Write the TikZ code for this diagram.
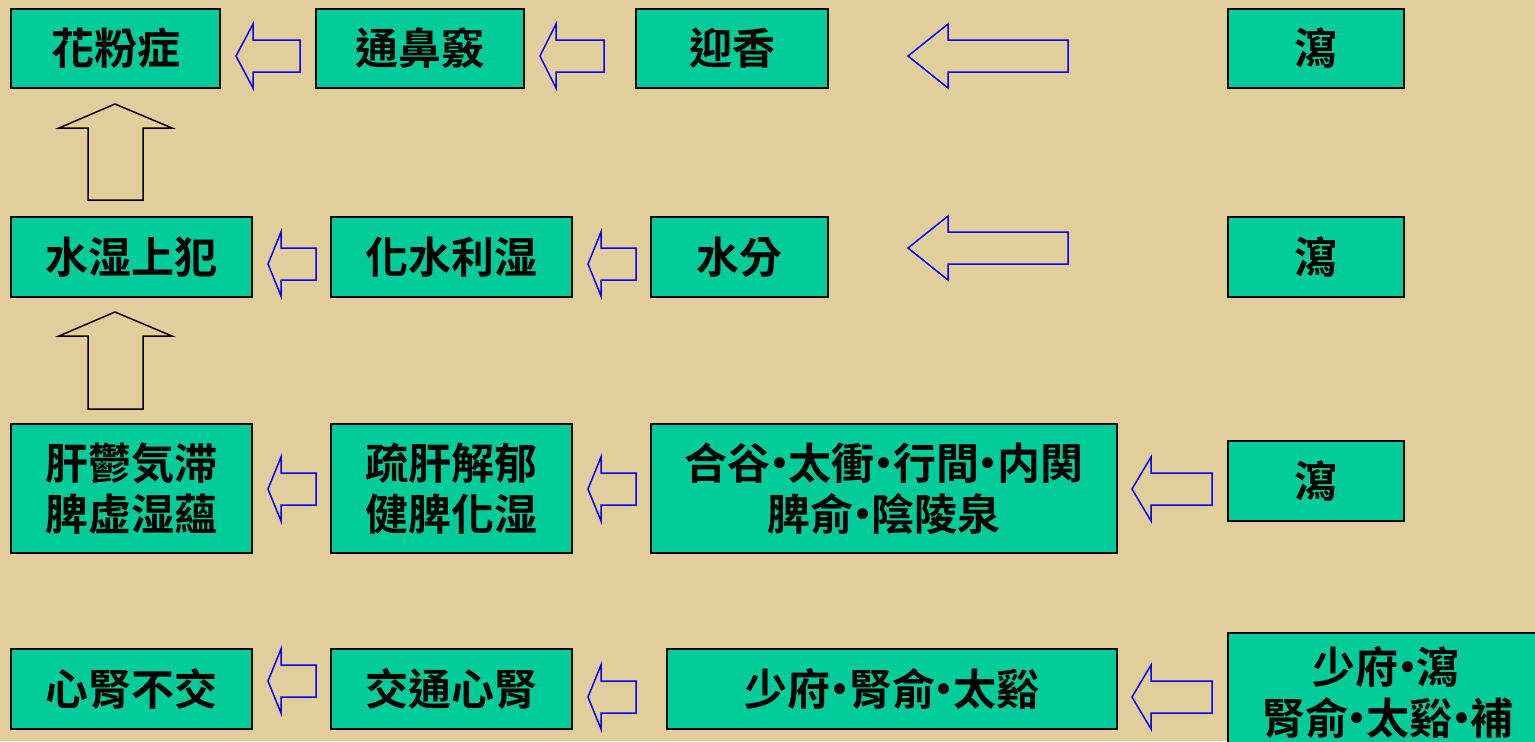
\documentclass[tikz,border=0pt]{standalone}
\usepackage{fontspec}
\newfontfamily\cjk{Noto Sans CJK TC}[UprightFont=* Bold]
\definecolor{bgtan}{RGB}{226,206,155}
\definecolor{boxfill}{RGB}{0,204,153}
\definecolor{arrblue}{RGB}{0,0,255}
\tikzset{
  box/.style={draw=black, line width=0.8pt, fill=boxfill, inner sep=0pt, align=center,
    font=\cjk\fontsize{21.5}{25.5}\selectfont},
  lbl/.style={inner sep=0pt, font=\cjk\fontsize{21.5}{25.5}\selectfont},
  barrow/.style={draw=arrblue, line width=0.75pt, line join=miter},
  karrow/.style={draw=black, line width=0.75pt, line join=miter},
}
\newcommand\D{\makebox[0.42em][c]{·}}
% box: name, x1, y1, x2, y2, text (pixel coordinates)
\newcommand\Bx[6]{\node[box, minimum width={(#4-#2)*0.5pt}, minimum height={(#5-#3)*0.5pt}] (#1) at ({(#2+#4)/2},{(#3+#5)/2}) {#6};}
% left block arrow: tip x, tip y, head back x, tail x
\newcommand\LArr[4]{\draw[barrow] (#1,#2) -- (#3,#2-32) -- (#3,#2-16) -- (#4,#2-16) -- (#4,#2+16) -- (#3,#2+16) -- (#3,#2+32) -- cycle;}
% up block arrow: centre x, tip y, bottom y
\newcommand\UArr[3]{\draw[karrow] (#1,#2) -- (#1+57,#2+24) -- (#1+28,#2+24) -- (#1+28,#3) -- (#1-27,#3) -- (#1-27,#2+24) -- (#1-56,#2+24) -- cycle;}
\begin{document}
\begin{tikzpicture}[x=0.5pt,y=-0.5pt]
\fill[bgtan] (0,0) rectangle (1535,741);
\useasboundingbox (0,0) rectangle (1535,741);
\clip (0,0) rectangle (1535,741);
% row 1
\Bx{a1}{11}{9}{220}{88}{花粉症}
\Bx{a2}{316}{9}{524}{88}{通鼻竅}
\Bx{a3}{636}{9}{828}{88}{迎香}
\Bx{a4}{1228}{9}{1404}{88}{瀉}
% row 2
\Bx{b1}{11}{217}{252}{297}{水湿上犯}
\Bx{b2}{331}{217}{572}{297}{化水利湿}
\Bx{b3}{651}{217}{828}{297}{水分}
\Bx{b4}{1228}{217}{1404}{297}{瀉}
% row 3
\Bx{c1}{11}{424}{252}{553}{肝鬱気滞\\脾虚湿蘊}
\Bx{c2}{331}{424}{572}{553}{疏肝解郁\\健脾化湿}
\Bx{c3}{651}{424}{1117}{553}{合谷\D 太衝\D 行間\D 内関\\脾俞\D 陰陵泉}
\Bx{c4}{1228}{441}{1404}{521}{瀉}
% row 4
\Bx{d1}{11}{649}{252}{729}{心腎不交}
\Bx{d2}{331}{649}{572}{729}{交通心腎}
\Bx{d3}{667}{649}{1117}{729}{少府\D 腎俞\D 太谿}
\Bx{d4}{1228}{633}{1545}{790}{}
\node[lbl] (d4a) at (1386,667) {少府\D 瀉};
\node[lbl] (d4b) at (1388,718) {腎俞\D 太谿\D 補};
% blue arrows
\LArr{236}{56}{253}{300}
\LArr{540}{56}{556}{604}
\LArr{908}{56}{948}{1068}
\LArr{268}{264}{281}{316}
\LArr{588}{264}{601}{636}
\LArr{908}{248}{948}{1068}
\LArr{268}{489}{281}{316}
\LArr{588}{489}{601}{636}
\LArr{1132}{489}{1151}{1212}
\LArr{268}{681}{281}{316}
\LArr{588}{697}{601}{636}
\LArr{1132}{697}{1151}{1212}
% black up arrows
\UArr{115}{104}{200}
\UArr{115}{312}{409}
\end{tikzpicture}
\end{document}
